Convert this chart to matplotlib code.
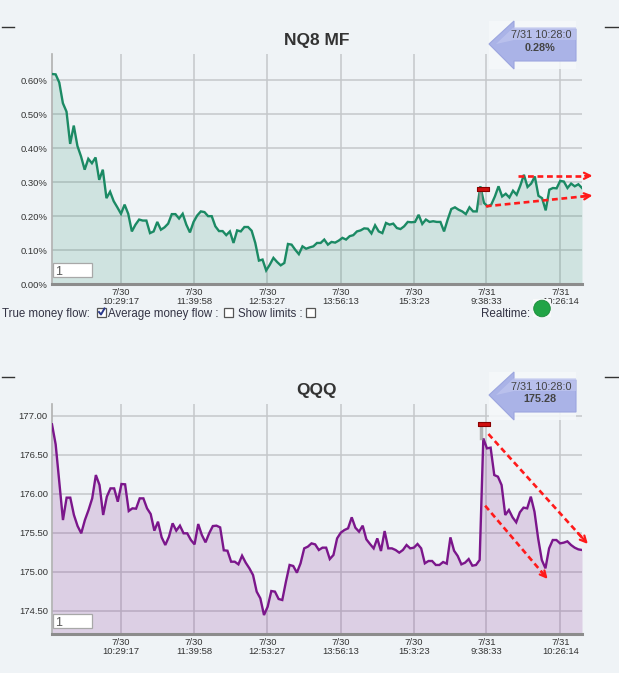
import matplotlib
matplotlib.use('Agg')
import matplotlib.pyplot as plt
from matplotlib.patches import Polygon, Rectangle, Circle
from matplotlib.lines import Line2D
from matplotlib.transforms import IdentityTransform

plt.rcParams['font.family'] = ['Liberation Sans', 'DejaVu Sans']

# ---------------- data ----------------
mf_title = "NQ8 MF"
qqq_title = "QQQ"

mf_values = [0.619, 0.618, 0.594, 0.533, 0.508, 0.413, 0.467, 0.407, 0.376, 0.337,
             0.369, 0.356, 0.373, 0.307, 0.337, 0.253, 0.272, 0.244, 0.226, 0.207,
             0.234, 0.207, 0.155, 0.175, 0.190, 0.187, 0.187, 0.150, 0.155, 0.183,
             0.160, 0.167, 0.178, 0.206, 0.206, 0.193, 0.207, 0.175, 0.152, 0.183,
             0.202, 0.214, 0.212, 0.200, 0.200, 0.170, 0.156, 0.156, 0.144, 0.155,
             0.121, 0.158, 0.155, 0.168, 0.168, 0.157, 0.121, 0.069, 0.072, 0.040,
             0.057, 0.077, 0.065, 0.055, 0.062, 0.118, 0.116, 0.101, 0.088, 0.111,
             0.104, 0.108, 0.111, 0.121,
             0.121, 0.131, 0.116, 0.124, 0.122, 0.128, 0.136, 0.131, 0.141, 0.144,
             0.155, 0.158, 0.164, 0.163, 0.149, 0.173, 0.155, 0.150, 0.180, 0.175,
             0.178, 0.165, 0.162, 0.170, 0.183, 0.182, 0.183, 0.204, 0.177, 0.190,
             0.183, 0.185, 0.183, 0.183, 0.155, 0.190, 0.221, 0.226, 0.219, 0.214,
             0.206, 0.226, 0.214, 0.214, 0.288, 0.239, 0.229, 0.234, 0.258, 0.288,
             0.258, 0.266, 0.255, 0.275, 0.263, 0.290, 0.322, 0.286, 0.296, 0.317,
             0.260, 0.253, 0.217, 0.278, 0.283, 0.282, 0.304, 0.302, 0.283, 0.296,
             0.288, 0.294, 0.283]

qqq_values = [176.889, 176.633, 176.154, 175.662, 175.949, 175.949, 175.727, 175.585, 175.492, 175.662,
              175.791, 175.940, 176.239, 176.111, 175.727, 175.962, 176.068, 176.068, 175.897, 176.124,
              176.120, 175.778, 175.812, 175.808, 175.940, 175.940, 175.812, 175.739, 175.526, 175.641,
              175.440, 175.342, 175.449, 175.620, 175.526, 175.590, 175.492, 175.492, 175.406, 175.350,
              175.611, 175.470, 175.376, 175.492, 175.585, 175.590, 175.568, 175.274, 175.269, 175.128,
              175.128, 175.094, 175.205, 175.115, 175.043, 174.957, 174.744, 174.658, 174.444, 174.551,
              174.752, 174.744, 174.650, 174.637, 174.872, 175.086, 175.073, 174.987, 175.107, 175.299,
              175.321, 175.363, 175.350, 175.278,
              175.308, 175.308, 175.162, 175.214, 175.427, 175.500, 175.534, 175.556, 175.697, 175.564,
              175.513, 175.590, 175.415, 175.355, 175.299, 175.427, 175.265, 175.521, 175.299, 175.299,
              175.278, 175.244, 175.278, 175.342, 175.299, 175.308, 175.355, 175.299, 175.107, 175.137,
              175.137, 175.086, 175.086, 175.124, 175.103, 175.440, 175.269, 175.201, 175.094, 175.115,
              175.162, 175.077, 175.086, 175.150, 176.709, 176.581, 176.590, 176.239, 176.218, 176.111,
              175.727, 175.791, 175.697, 175.633, 175.761, 175.821, 175.812, 175.962, 175.769, 175.427,
              175.150, 175.043, 175.299, 175.406, 175.406, 175.363, 175.372, 175.389, 175.342, 175.308,
              175.286, 175.278]

x_tick_labels = ['7/30\n10:29:17', '7/30\n11:39:58', '7/30\n12:53:27', '7/30\n13:56:13',
                 '7/30\n15:3:23', '7/31\n9:38:33', '7/31\n10:26:14']
mf_yticks = [0.0, 0.1, 0.2, 0.3, 0.4, 0.5, 0.6]
qqq_yticks = [174.5, 175.0, 175.5, 176.0, 176.5, 177.0]

callout_time = "7/31 10:28:0"
mf_last = "0.28%"
qqq_last = "175.28"

# annotation arrows (index, value)
mf_arrows = [((128.4, 0.319), (148.9, 0.319)),
             ((119.5, 0.229), (148.9, 0.261))]
qqq_arrows = [((119.4, 176.765), (146.6, 175.355)),
              ((118.5, 175.846), (135.6, 174.906))]
mf_marker = (118.6, 0.281, 0.240)
qqq_marker = (118.2, 176.889, 176.71)

# ---------------- layout ----------------
W, H = 619, 673
BG = '#eff3f6'
tick_fracs = [0.1302, 0.2679, 0.4062, 0.5447, 0.6825, 0.8194, 0.9591]

fig = plt.figure(figsize=(W / 100, H / 100), dpi=100, facecolor=BG)
ID = IdentityTransform()


def P(x, y):
    return (x, H - y)


def draw_chart(rect, values, ylim, yticks, ylabels, color, alpha, arrows, marker):
    ax = fig.add_axes(rect)
    ax.set_facecolor(BG)
    n = len(values)
    xs = list(range(n))
    ax.fill_between(xs, values, ylim[0], color=color, alpha=alpha, lw=0, zorder=2)
    ax.plot(xs, values, color=color, lw=1.7, zorder=3, solid_joinstyle='miter')
    ax.set_xlim(0, n - 1)
    ax.set_ylim(*ylim)
    ax.set_xticks([f * (n - 1) for f in tick_fracs])
    ax.set_xticklabels(x_tick_labels, linespacing=1.0)
    ax.set_yticks(yticks)
    ax.set_yticklabels(ylabels)
    ax.tick_params(axis='both', length=0, labelsize=6.8, colors='#333333')
    ax.tick_params(axis='y', pad=3)
    ax.tick_params(axis='x', pad=3)
    ax.grid(True, color='#c4c7ca', lw=1.1)
    ax.set_axisbelow(True)
    for s in ['top', 'right']:
        ax.spines[s].set_visible(False)
    ax.spines['left'].set_color('#b0b0b0')
    ax.spines['left'].set_linewidth(1.2)
    ax.spines['bottom'].set_color('#8c8c8c')
    ax.spines['bottom'].set_linewidth(2.2)
    # max marker
    mx, my, mlow = marker
    ax.plot([mx - 0.8, mx - 0.8], [mlow, my], color='#9a9a9a', lw=2.5, alpha=0.7, zorder=4)
    ax.plot([mx], [my], marker=[(-3.5, -1), (3.5, -1), (3.5, 1), (-3.5, 1), (-3.5, -1)],
            ms=8, mfc='#d01010', mec='#8a0000', mew=0.8, zorder=5, clip_on=False)
    # dashed red arrows
    for (x0, y0), (x1, y1) in arrows:
        ax.plot([x0, x0 + 0.94 * (x1 - x0)], [y0, y0 + 0.94 * (y1 - y0)], color='#ff1a1a',
                lw=1.9, ls=(0, (2.2, 1.4)), clip_on=False, zorder=6)
        ax.annotate('', xy=(x1, y1), xytext=(x0 + 0.9 * (x1 - x0), y0 + 0.9 * (y1 - y0)),
                    arrowprops=dict(arrowstyle='->', color='#ff1a1a', lw=1.6,
                                    mutation_scale=11, shrinkA=0, shrinkB=0),
                    annotation_clip=False, zorder=6)
    return ax


ax1 = draw_chart([52 / W, 1 - 284 / H, 530 / W, 230 / H], mf_values, (0.0, 0.678),
                 mf_yticks, [f'{v:.2f}%' for v in mf_yticks], '#1b8a64', 0.15,
                 mf_arrows, mf_marker)
ax2 = draw_chart([52 / W, 1 - 634 / H, 530 / W, 229.7 / H], qqq_values, (174.201, 177.146),
                 qqq_yticks, [f'{v:.2f}' for v in qqq_yticks], '#7b168b', 0.16,
                 qqq_arrows, qqq_marker)

# titles
fig.text(*P(316.5, 44.5), mf_title, transform=ID, ha='center', va='baseline',
         fontsize=12.5, fontweight='bold', color='#333333')
fig.text(*P(316.5, 395.5), qqq_title, transform=ID, ha='center', va='baseline',
         fontsize=12.5, fontweight='bold', color='#333333')

# small dashes in corners
for yy in (26.7, 377):
    fig.add_artist(Line2D([2, 14], [H - yy, H - yy], transform=ID, color='#333333', lw=1))
    fig.add_artist(Line2D([605, 618], [H - yy, H - yy], transform=ID, color='#333333', lw=1))


# callout arrows
def callout(dy, line2):
    fig.add_artist(Rectangle(P(489, 69 + dy), 87, 48, transform=ID, facecolor='#f6f8fa',
                             edgecolor='none', alpha=0.85, zorder=7))
    pts = [P(489, 44 + dy), P(514, 21 + dy), P(514, 29 + dy), P(576, 29 + dy),
           P(576, 61 + dy), P(514, 61 + dy), P(514, 69 + dy)]
    fig.add_artist(Polygon(pts, closed=True, transform=ID, facecolor='#aab3e7',
                           edgecolor='#9ca6df', lw=0.8, zorder=8))
    fig.add_artist(Polygon([P(496, 44 + dy), P(514, 27 + dy), P(576, 27 + dy), P(576, 40 + dy),
                            P(514, 40 + dy)], closed=True, transform=ID,
                           facecolor='#c4caf0', edgecolor='none', alpha=0.6, zorder=8))
    fig.text(*P(541.5, 38.5 + dy), callout_time, transform=ID, ha='center', va='baseline',
             fontsize=7.8, color='#444444', zorder=9)
    fig.text(*P(540, 51 + dy), line2, transform=ID, ha='center', va='baseline',
             fontsize=7.8, fontweight='bold', color='#444444', zorder=9)


callout(0, mf_last)
callout(351, qqq_last)

# input boxes with "1"
for top in (263, 614):
    fig.add_artist(Rectangle(P(53, top + 14), 39, 14, transform=ID, facecolor='white',
                             edgecolor='#a8a8a8', lw=0.9, zorder=7))
    fig.text(*P(55.5, top + 12), '1', transform=ID, ha='left', va='baseline',
             fontsize=9, color='#555555', zorder=8)

# checkbox row
row_y = 316.7
fs_row = 8.3
fig.text(*P(2, row_y), 'True money flow:', transform=ID, ha='left', va='baseline',
         fontsize=fs_row, color='#333344')
fig.text(*P(108, row_y), 'Average money flow :', transform=ID, ha='left', va='baseline',
         fontsize=fs_row, color='#333344')
fig.text(*P(238, row_y), 'Show limits :', transform=ID, ha='left', va='baseline',
         fontsize=fs_row, color='#333344')
for bx, checked in ((97, True), (224, False), (305.5, False)):
    fig.add_artist(Rectangle(P(bx, 316.5), 9, 9, transform=ID, facecolor='white',
                             edgecolor='#555555', lw=0.9))
    if checked:
        fig.add_artist(Line2D([bx + 2, bx + 4, bx + 7.5], [H - 312, H - 314.5, H - 308.5],
                              transform=ID, color='#2b3a8c', lw=1.4))
fig.text(*P(480.7, row_y), 'Realtime:', transform=ID, ha='left', va='baseline',
         fontsize=8.4, color='#333344', zorder=8)
fig.add_artist(Rectangle(P(533, 317), 18, 18, transform=ID, facecolor='#f8f9fa',
                         edgecolor='none', zorder=8))
fig.add_artist(Circle(P(542, 308.5), 8.3, transform=ID, facecolor='#21a446',
                      edgecolor='#1b8a3a', lw=0.6, zorder=9))

fig.savefig('out.png', dpi=100, facecolor=BG)
